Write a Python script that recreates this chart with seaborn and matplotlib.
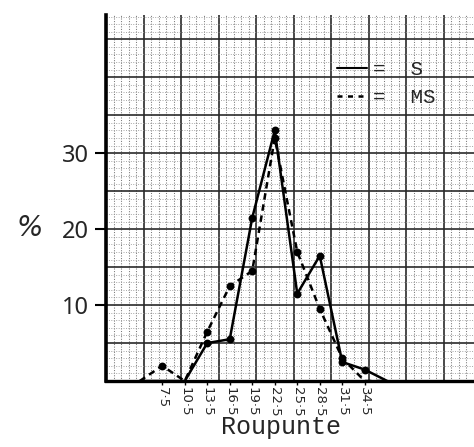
import matplotlib
matplotlib.use("Agg")
import matplotlib.pyplot as plt
from matplotlib.lines import Line2D
import numpy as np
import pandas as pd
import seaborn as sns

# Class midpoints (Roupunte) and the share of each group in percent
classes = [4.5, 7.5, 10.5, 13.5, 16.5, 19.5, 22.5, 25.5, 28.5, 31.5, 34.5, 37.5]
s_pct = [0, 0, 0, 5, 5.5, 21.5, 33, 11.5, 16.5, 2.5, 1.5, 0]
ms_pct = [0, 2, 0, 6.5, 12.5, 14.5, 32, 17, 9.5, 3, 0, 0]

tick_classes = [7.5, 10.5, 13.5, 16.5, 19.5, 22.5, 25.5, 28.5, 31.5, 34.5]
tick_labels = ["7·5", "10·5", "13·5", "16·5", "19·5", "22·5", "25·5", "28·5", "31·5", "34·5"]
y_ticks = [10, 20, 30]
y_tick_labels = ["10", "20", "30"]

groups = ["S", "MS"]
legend_labels = ["=  S", "=  MS"]

df = pd.DataFrame({
    "Roupunte": classes * 2,
    "pct": s_pct + ms_pct,
    "group": [groups[0]] * len(classes) + [groups[1]] * len(classes),
})
# dots are only drawn where a class has a non-zero share
dots = df[df["pct"] > 0]

sns.set_theme(style="white")
plt.rcParams["font.family"] = ["DejaVu Sans"]

fig = plt.figure(figsize=(4.74, 4.47), dpi=100)
ax = fig.add_axes([106 / 474, 1 - 381 / 447, 368 / 474, 366 / 447])

x_max = 368 / 7.5
y_max = 48.2
ax.set_xlim(0, x_max)
ax.set_ylim(0, y_max)

# graph-paper grid: heavy lines every 5 units, fine dotted lines every unit
for v in np.arange(1, int(x_max) + 1):
    if v % 5 == 0:
        ax.axvline(v, color="#2a2a2a", lw=1.2, zorder=0)
    else:
        ax.axvline(v, color="#7a7a7a", lw=0.75, ls=(0, (1.0, 1.5)), zorder=0)
for v in np.arange(1, int(y_max) + 1):
    if v % 5 == 0:
        ax.axhline(v, color="#2a2a2a", lw=1.2, zorder=0)
    else:
        ax.axhline(v, color="#9a9a9a", lw=0.65, ls=(0, (1.0, 1.7)), zorder=0)

sns.lineplot(
    data=df, x="Roupunte", y="pct", style="group",
    dashes={"S": "", "MS": (2.6, 1.9)},
    color="black", lw=1.8,
    legend=False, ax=ax, zorder=3, clip_on=False,
)
sns.scatterplot(
    data=dots, x="Roupunte", y="pct", color="black", s=32,
    linewidth=0, legend=False, ax=ax, zorder=4, clip_on=False,
)

for side in ("top", "right"):
    ax.spines[side].set_visible(False)
ax.spines["left"].set_linewidth(2.6)
ax.spines["bottom"].set_linewidth(2.4)
ax.spines["left"].set_color("black")
ax.spines["bottom"].set_color("black")

ax.set_yticks(y_ticks)
ax.set_yticklabels(y_tick_labels, fontsize=17, family="Noto Sans")
ax.set_xticks(tick_classes)
ax.set_xticklabels(tick_labels, rotation=270, fontsize=9.5)
ax.tick_params(axis="y", left=True, length=8, width=1.5, pad=4, color="black")
ax.tick_params(axis="x", bottom=True, length=3, width=1, pad=1.5, color="black")

ax.set_xlabel("Roupunte", family="Liberation Mono", fontsize=18)
ax.xaxis.set_label_coords((281 - 106) / 368, (381 - 427) / 366)
ax.xaxis.label.set_va("center")
ax.set_ylabel("%", rotation=0, fontsize=20, style="italic")
ax.yaxis.set_label_coords((30 - 106) / 368, (381 - 228) / 366)
ax.yaxis.label.set_va("center")

handles = [
    Line2D([], [], color="black", lw=1.5),
    Line2D([], [], color="black", lw=1.8, dashes=(2.0, 2.2)),
]
ax.legend(
    handles, legend_labels, loc="upper left",
    bbox_to_anchor=(337 / 474, 1 - 60 / 447), bbox_transform=fig.transFigure,
    frameon=False, prop={"family": "Liberation Mono", "size": 15},
    handlelength=1.45, handletextpad=0.3, labelspacing=0.45,
    borderpad=0, borderaxespad=0,
)

fig.savefig("out.png", dpi=100)
